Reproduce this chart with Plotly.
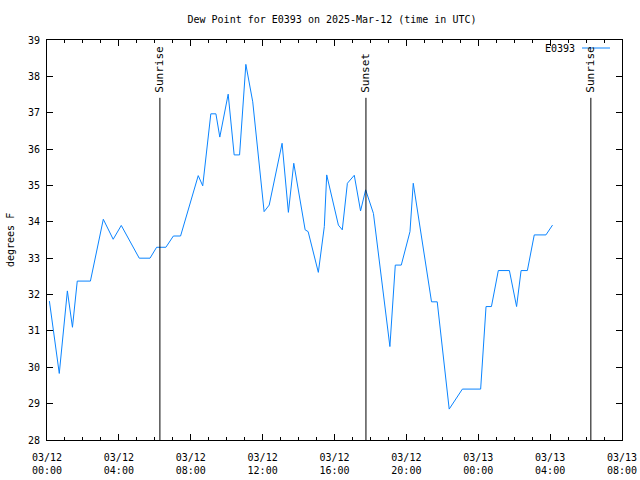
import plotly.graph_objects as go

# Observation times (UTC) and dew point values (°F)
times = [
    "2025-03-12 00:08", "2025-03-12 00:41", "2025-03-12 01:08", "2025-03-12 01:25",
    "2025-03-12 01:41", "2025-03-12 02:25", "2025-03-12 03:08", "2025-03-12 03:41",
    "2025-03-12 04:08", "2025-03-12 05:08", "2025-03-12 05:44", "2025-03-12 06:06",
    "2025-03-12 06:37", "2025-03-12 07:02", "2025-03-12 07:26", "2025-03-12 08:25",
    "2025-03-12 08:40", "2025-03-12 09:07", "2025-03-12 09:24", "2025-03-12 09:37",
    "2025-03-12 10:05", "2025-03-12 10:25", "2025-03-12 10:43", "2025-03-12 11:04",
    "2025-03-12 11:27", "2025-03-12 12:05", "2025-03-12 12:22", "2025-03-12 13:05",
    "2025-03-12 13:26", "2025-03-12 13:44", "2025-03-12 14:22", "2025-03-12 14:32",
    "2025-03-12 15:06", "2025-03-12 15:26", "2025-03-12 15:34", "2025-03-12 16:13",
    "2025-03-12 16:26", "2025-03-12 16:43", "2025-03-12 17:06", "2025-03-12 17:27",
    "2025-03-12 17:44", "2025-03-12 18:10", "2025-03-12 19:05", "2025-03-12 19:23",
    "2025-03-12 19:43", "2025-03-12 20:12", "2025-03-12 20:23", "2025-03-12 21:24",
    "2025-03-12 21:43", "2025-03-12 22:23", "2025-03-12 23:07", "2025-03-13 00:08",
    "2025-03-13 00:26", "2025-03-13 00:44", "2025-03-13 01:07", "2025-03-13 01:44",
    "2025-03-13 02:08", "2025-03-13 02:23", "2025-03-13 02:44", "2025-03-13 03:07",
    "2025-03-13 03:46", "2025-03-13 04:08",
]
dewpoint = [
    31.82, 29.83, 32.10, 31.10,
    32.37, 32.37, 34.07, 33.52,
    33.90, 33.00, 33.00, 33.30,
    33.30, 33.61, 33.61, 35.27,
    34.99, 36.97, 36.97, 36.33,
    37.51, 35.84, 35.84, 38.33,
    37.30, 34.28, 34.46, 36.16,
    34.26, 35.61, 33.78, 33.73,
    32.61, 33.87, 35.29, 33.91,
    33.78, 35.06, 35.28, 34.30,
    34.88, 34.23, 30.57, 32.81,
    32.81, 33.73, 35.06, 31.80,
    31.80, 28.85, 29.40, 29.40,
    31.67, 31.67, 32.66, 32.66,
    31.67, 32.66, 32.66, 33.64,
    33.64, 33.91,
]

sun_times = ["2025-03-12 06:17", "2025-03-12 17:45", "2025-03-13 06:16"]
sun_labels = ["Sunrise", "Sunset", "Sunrise"]

station = "E0393"
title = "Dew Point for E0393 on 2025-Mar-12 (time in UTC)"
y_label = "degrees F"

x_range = ["2025-03-12 00:00", "2025-03-13 08:00"]
y_range = [28, 39]
line_color = "#0a84ff"
font_family = "DejaVu Sans Mono, Liberation Mono, monospace"

# plot-area geometry (pixels)
L, R, T, B = 47, 622, 40, 440
W, H = 640, 480


def px(xp):
    return (xp - L) / (R - L)


def py(yp):
    return (B - yp) / (B - T)


fig = go.Figure()
fig.add_trace(go.Scatter(
    x=times, y=dewpoint, mode="lines", name=station,
    line=dict(color=line_color, width=1), showlegend=False,
))

# Sunrise / sunset markers
sun_top = 37.41
for t, lab in zip(sun_times, sun_labels):
    fig.add_shape(type="line", xref="x", yref="y", x0=t, x1=t, y0=y_range[0], y1=sun_top,
                  line=dict(color="black", width=1))
    fig.add_annotation(x=t, y=sun_top, xref="x", yref="y", text=lab, textangle=-90,
                       showarrow=False, xanchor="center", yanchor="bottom", yshift=3,
                       font=dict(family=font_family, size=11, color="black"))

# Legend (text on left, sample on right, like gnuplot)
fig.add_annotation(x=px(577), y=py(48), xref="paper", yref="paper",
                   text=station, showarrow=False, xanchor="right", yanchor="middle",
                   font=dict(family=font_family, size=10, color="black"))
fig.add_shape(type="line", xref="paper", yref="paper",
              x0=px(582), x1=px(610), y0=py(48), y1=py(48),
              line=dict(color=line_color, width=1))

# y axis title
fig.add_annotation(x=px(10), y=py(240), xref="paper", yref="paper", text=y_label,
                   showarrow=False, textangle=-90, xanchor="center", yanchor="middle",
                   font=dict(family=font_family, size=10, color="black"))

fig.update_layout(
    width=W, height=H,
    margin=dict(l=L, r=W - R, t=T, b=H - B),
    paper_bgcolor="white", plot_bgcolor="white",
    font=dict(family=font_family, size=10, color="black"),
    title=dict(text=title, x=332 / W, xanchor="center", xref="container",
               y=1 - 19 / H, yref="container", yanchor="middle",
               font=dict(family=font_family, size=10, color="black")),
    showlegend=False,
)

fig.update_xaxes(
    type="date", range=x_range, dtick=4 * 3600 * 1000, tick0="2025-03-12 00:00",
    tickformat="%m/%d<br>%H:%M", ticks="inside", ticklen=6, tickcolor="black",
    showline=True, linecolor="black", linewidth=1, mirror="allticks",
    showgrid=False, zeroline=False, automargin=False, ticklabelstandoff=8,
    minor=dict(dtick=3600 * 1000, ticks="inside", ticklen=3, tickcolor="black", showgrid=False),
    tickfont=dict(family=font_family, size=10),
)
fig.update_yaxes(
    range=y_range, dtick=1, ticks="inside", ticklen=6, tickcolor="black",
    showline=True, linecolor="black", linewidth=1, mirror="allticks",
    showgrid=False, zeroline=False, ticklabelstandoff=4, automargin=False,
    tickfont=dict(family=font_family, size=10),
)

fig.write_html("out.html")
